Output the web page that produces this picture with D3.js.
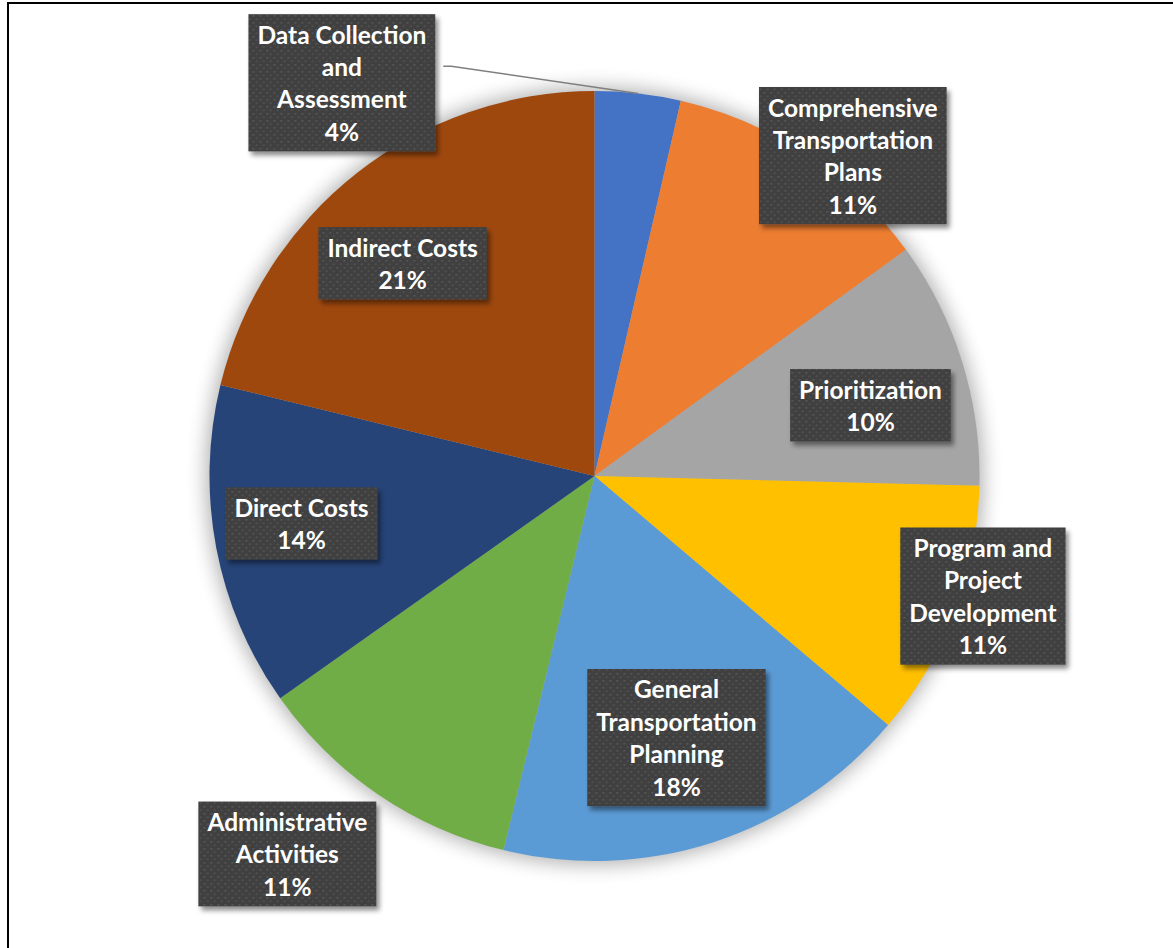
<!DOCTYPE html>
<html lang="en">
<head>
    <meta charset="UTF-8">
    <title>Budget by activity</title>
    <style>
        body { margin: 0; background: #fff; }
        .label text {
            font: bold 24.5px Lato, "Noto Sans", sans-serif;
            fill: #fff;
            text-anchor: middle;
            dominant-baseline: central;
        }
    </style>
</head>
<body>
    <script src="https://d3js.org/d3.v7.min.js"></script>
    <script>
        // data (clockwise from 12 o'clock)
        // "\n" marks where the label wraps in the original
        const categories = [
            "Data Collection\nand\nAssessment",
            "Comprehensive\nTransportation\nPlans",
            "Prioritization",
            "Program and\nProject\nDevelopment",
            "General\nTransportation\nPlanning",
            "Administrative\nActivities",
            "Direct Costs",
            "Indirect Costs"
        ];
        const values = [3.6, 11.4, 10.4, 10.8, 17.6, 11.4, 13.6, 21.2];
        const colors = ["#4472C4", "#ED7D31", "#A5A5A5", "#FFC000", "#5B9BD5", "#70AD47", "#264478", "#9E480E"];

        // label placement: [radius factor, angle nudge in degrees]
        const labelPlace = [[1.214, -39.2], [1.069, 5.4], [0.74, 2.9], [1.056, -3.7],
                            [0.712, 0.6], [1.265, 4.9], [0.771, 1.6], [0.744, -3.9]];

        const width = 1173, height = 948;
        const cx = 594.5, cy = 476, radius = 385;
        const lineH = 32.4;

        const svg = d3.select("body").append("svg")
            .attr("width", width)
            .attr("height", height);

        const defs = svg.append("defs");
        const pat = defs.append("pattern")
            .attr("id", "dots")
            .attr("patternUnits", "userSpaceOnUse")
            .attr("width", 7).attr("height", 7);
        pat.append("rect").attr("width", 7).attr("height", 7).attr("fill", "#404040");
        pat.append("rect").attr("x", 1).attr("y", 1).attr("width", 1.6).attr("height", 1.6).attr("fill", "#5c5c5c");
        pat.append("rect").attr("x", 4.5).attr("y", 4.5).attr("width", 1.6).attr("height", 1.6).attr("fill", "#555");

        defs.append("filter").attr("id", "glow")
            .attr("x", "-20%").attr("y", "-20%").attr("width", "140%").attr("height", "140%")
            .append("feGaussianBlur").attr("stdDeviation", 10);

        const sh = defs.append("filter").attr("id", "boxShadow")
            .attr("x", "-20%").attr("y", "-20%").attr("width", "140%").attr("height", "140%");
        sh.append("feDropShadow").attr("dx", 3).attr("dy", 4).attr("stdDeviation", 2.5)
            .attr("flood-color", "#000").attr("flood-opacity", 0.45);

        // frame
        svg.append("rect")
            .attr("x", 8).attr("y", 3)
            .attr("width", width + 20).attr("height", height + 20)
            .attr("fill", "none").attr("stroke", "#000").attr("stroke-width", 2);

        const g = svg.append("g").attr("transform", `translate(${cx},${cy})`);

        // soft shadow round the pie
        g.append("circle")
            .attr("r", radius + 3)
            .attr("fill", "#000").attr("opacity", 0.32)
            .attr("filter", "url(#glow)");

        const pie = d3.pie().sort(null).value(d => d);
        const arcs = pie(values);
        const total = d3.sum(values);
        const arc = d3.arc().innerRadius(0).outerRadius(radius);

        g.selectAll(".slice")
            .data(arcs)
            .join("path")
            .attr("class", "slice")
            .attr("d", arc)
            .attr("fill", (d, i) => colors[i]);

        function polar(angle, r) {
            return [r * Math.sin(angle), -r * Math.cos(angle)];
        }

        const measure = svg.append("g").attr("class", "label");
        function textWidth(s) {
            const t = measure.append("text").text(s);
            const w = t.node().getComputedTextLength();
            t.remove();
            return w;
        }

        const labels = g.selectAll(".label-g")
            .data(arcs)
            .join("g")
            .attr("class", "label");

        labels.each(function (d, i) {
            const sel = d3.select(this);
            const lines = categories[i].split("\n");
            lines.push(Math.round(d.value / total * 100) + "%");
            const w = d3.max(lines, textWidth) + 18;
            const h = (lines.length - 1) * lineH + 40;
            const mid = (d.startAngle + d.endAngle) / 2;
            const [lx, ly] = polar(mid + labelPlace[i][1] * Math.PI / 180, radius * labelPlace[i][0]);
            const x0 = lx - w / 2, y0 = ly - h / 2;

            if (i === 0) {
                // leader line for the small slice
                const [ex, ey] = polar(mid, radius);
                sel.append("path")
                    .attr("d", `M${x0 + w + 8},${y0 + 52}h8L${ex},${ey}`)
                    .attr("fill", "none")
                    .attr("stroke", "#7f7f7f")
                    .attr("stroke-width", 1.5);
            }

            sel.append("rect")
                .attr("x", x0).attr("y", y0)
                .attr("width", w).attr("height", h)
                .attr("fill", "url(#dots)")
                .attr("filter", "url(#boxShadow)");

            sel.selectAll("text")
                .data(lines)
                .join("text")
                .attr("x", lx)
                .attr("y", (s, k) => y0 + 20 + k * lineH)
                .text(s => s);
        });
        measure.remove();
    </script>
</body>
</html>
